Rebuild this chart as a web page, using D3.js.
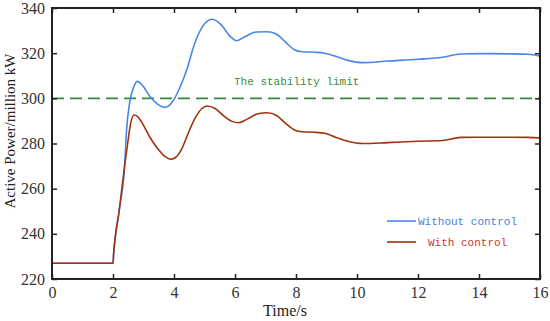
<!DOCTYPE html>
<html><head><meta charset="utf-8">
<script src="https://cdn.jsdelivr.net/npm/d3@7"></script>
<style>body{margin:0;background:#fff}svg{display:block}</style>
</head><body>
<svg id="c" width="550" height="321"></svg>
<script>
const xTicks = [0,2,4,6,8,10,12,14,16];
const yTicks = [220,240,260,280,300,320,340];
const limitValue = 300;
const limitLabel = "The stability limit";
const seriesNames = ["Without control", "With control"];
const tWithout = [0,2,2.02,2.2,2.38,2.44,2.55,2.68,2.79,2.95,3.2,3.45,3.7,3.95,4.2,4.45,4.62,4.9,5.25,5.55,5.85,6.05,6.35,6.7,7.05,7.35,7.65,7.95,8.2,8.6,8.94,9.3,9.7,10.2,11,12,12.8,13.4,14,15,15.6,16];
const pWithout = [227,227,231,250,270,285,298.5,305,307.5,306,301,297.5,296,298.5,305,314,322,331,335,332.5,327.3,325.5,327.5,329.4,329.5,328.5,325,321.5,320.6,320.4,320,318.6,316.8,315.8,316.5,317.3,318.2,319.6,319.8,319.7,319.5,318.7];
const tWith = [0,2,2.02,2.2,2.38,2.48,2.58,2.69,2.8,3.0,3.2,3.45,3.7,3.88,4.05,4.25,4.45,4.7,5.08,5.35,5.65,5.9,6.12,6.4,6.75,7.05,7.35,7.65,7.95,8.2,8.6,8.94,9.3,9.7,10.2,11,12,12.8,13.4,14,15,15.6,16];
const pWith = [227,227,231,250,270,280,289,292.6,292,288,283,278,274.3,273,273.8,277.5,284,291.5,296.6,295.5,292,289.8,289.2,290.8,293.2,293.6,292.5,289,286,285.2,285,284.5,282.8,281,280,280.4,281,281.3,282.7,282.8,282.8,282.7,282.5];

const svg = d3.select("#c");
const m = {l:52, r:540, t:8, b:279};
const x = d3.scaleLinear().domain([0,16]).range([m.l, m.r]);
const y = d3.scaleLinear().domain([220,340]).range([m.b, m.t]);
const font = "'Liberation Serif','Times New Roman',serif";
const mono = "'Liberation Mono','Courier New',monospace";

// limit line
svg.append("line").attr("x1", x(0)).attr("x2", x(16)).attr("y1", y(limitValue)).attr("y2", y(limitValue))
  .attr("stroke", "#2e8b3a").attr("stroke-width", 1.6).attr("stroke-dasharray", "12,6");

const line = d3.line().x(d=>x(d[0])).y(d=>y(d[1])).curve(d3.curveMonotoneX);
const colors = ["#4a86e8", "#a3300e"];
svg.append("path").datum(tWithout.map((t,i)=>[t,pWithout[i]]))
  .attr("d", line).attr("fill","none").attr("stroke", colors[0]).attr("stroke-width",1.6);
svg.append("path").datum(tWith.map((t,i)=>[t,pWith[i]]))
  .attr("d", line).attr("fill","none").attr("stroke", colors[1]).attr("stroke-width",1.6);

// axes
const tickStyle = g => {
  g.select(".domain").remove();
  g.selectAll(".tick line").attr("stroke","#222").attr("stroke-width",1.5);
  g.selectAll("text").attr("font-family", font).attr("font-size", 16).attr("fill","#333");
};
svg.append("g").attr("transform",`translate(0,${m.b})`)
  .call(d3.axisBottom(x).tickValues(xTicks).tickSize(-5).tickPadding(8).tickFormat(d3.format("d"))).call(tickStyle);
svg.append("g").attr("transform",`translate(0,${m.t})`)
  .call(d3.axisTop(x).tickValues(xTicks).tickSize(-5).tickFormat("")).call(tickStyle);
svg.append("g").attr("transform",`translate(${m.l},0)`)
  .call(d3.axisLeft(y).tickValues(yTicks).tickSize(-5).tickPadding(7).tickFormat(d3.format("d"))).call(tickStyle);
svg.append("g").attr("transform",`translate(${m.r},0)`)
  .call(d3.axisRight(y).tickValues(yTicks).tickSize(-5).tickFormat("")).call(tickStyle);

svg.append("rect").attr("x", m.l).attr("y", m.t).attr("width", m.r-m.l).attr("height", m.b-m.t)
  .attr("fill","none").attr("stroke","#222").attr("stroke-width",2);

// axis labels
svg.append("text").attr("x", 285).attr("y", 316).attr("text-anchor","middle")
  .attr("font-family", font).attr("font-size", 16).attr("fill","#222").text("Time/s");
svg.append("text").attr("transform","translate(15,131) rotate(-90)").attr("text-anchor","middle")
  .attr("font-family", font).attr("font-size", 15).attr("fill","#222").text("Active Power/million kW");

// limit label
svg.append("text").attr("x", 234).attr("y", 85).attr("font-family", mono).attr("font-size", 11)
  .attr("fill","#3a8a3a").text(limitLabel);

// legend
const leg = [{y:221, tx:418, c:colors[0], tc:"#4a7fd8"}, {y:242, tx:428, c:colors[1], tc:"#c03c30"}];
leg.forEach((L,i)=>{
  svg.append("line").attr("x1",387).attr("x2",416).attr("y1",L.y).attr("y2",L.y).attr("stroke",L.c).attr("stroke-width",1.6);
  svg.append("text").attr("x",L.tx).attr("y",L.y+4).attr("font-family",mono).attr("font-size",11)
    .attr("fill",L.tc).text(seriesNames[i]);
});
</script>
</body></html>
